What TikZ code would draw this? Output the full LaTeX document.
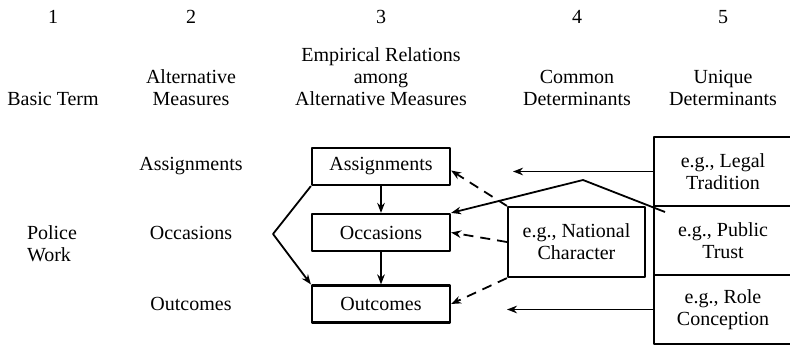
\documentclass[tikz,border=0pt]{standalone}
\usepackage{fontspec}
\setmainfont{Liberation Serif}
\usetikzlibrary{arrows.meta,positioning}
\begin{document}
\begin{tikzpicture}[x=0.5pt,y=-0.5pt,>={Stealth[length=5pt,width=3.8pt]},line join=round,
		font=\fontsize{10}{11}\selectfont,
		mbox/.style={draw,line width=1.1pt,minimum width=69pt,minimum height=18.5pt,inner sep=0pt},
		ubox/.style={draw,line width=1.1pt,outer sep=0pt,minimum width=69pt,minimum height=34.5pt,inner sep=0pt,align=center},
		head/.style={anchor=south,inner sep=0pt,align=center},
		con/.style={line width=0.9pt},
		dsh/.style={con,dash pattern=on 5pt off 3.5pt}]
			\useasboundingbox (0,0) rectangle (790,347);
			\clip (0,0) rectangle (790,347);
			% so cot va tieu de
			\foreach \i/\xc in {1/53,2/191,3/381,4/577,5/723}
				\node (n\i) at (\xc,17) {\i};
			\node[head] (h1) at (53,106) {Basic Term};
			\node[head] (h2) at (191,106) {Alternative\\Measures};
			\node[head] (h3) at (381,106) {Empirical Relations\\among\\Alternative Measures};
			\node[head] (h4) at (577,106) {Common\\Determinants};
			\node[head] (h5) at (723,106) {Unique\\Determinants};
			\node[align=left] (police) at (52,244) {Police\\Work};
			\node (r1) at (191,166) {Assignments};
			\node (r2) at (191,233) {Occasions};
			\node (r3) at (191,304) {Outcomes};
			% hop
			\node[mbox] (assign) at (381,166.5) {Assignments};
			\node[mbox] (occas) at (381,232.5) {Occasions};
			\node[mbox] (outc) at (381,304) {Outcomes};
			\node[mbox,minimum width=68.5pt,minimum height=35pt,align=center] (nat) at (576.5,242) {e.g., National\\Character};
			\node[ubox] (legal) at (723,171.5) {e.g., Legal\\Tradition};
			\node[ubox,below=0pt of legal] (trust) {e.g., Public\\Trust};
			\node[ubox,below=0pt of trust] (role) {e.g., Role\\Conception};
			% mui ten
			\draw[con,->] (assign) -- (occas);
			\draw[con,->] (occas) -- (outc);
			\coordinate (fork) at (273,234);
			\draw[con,->] (assign.south west) -- (fork) -- (outc.north west);
			\coordinate (ltip) at (513,171.5);
			\coordinate (rtip) at (507,309.5);
			\draw[con,->] (legal.west) -- (ltip);
			\draw[con,->] (role.west) -- (rtip);
			\coordinate (kink) at (665,212);
			\coordinate (ridge) at (583,180);
			\draw[con,->] (kink) -- (ridge) -- (occas.north east);
			\draw[dsh,->] (nat.north west) -- ([yshift=-2pt]assign.east);
			\draw[dsh,->] (nat.west) -- (occas.east);
			\draw[dsh,->] (nat.south west) -- (outc.east);
		\end{tikzpicture}
\end{document}
